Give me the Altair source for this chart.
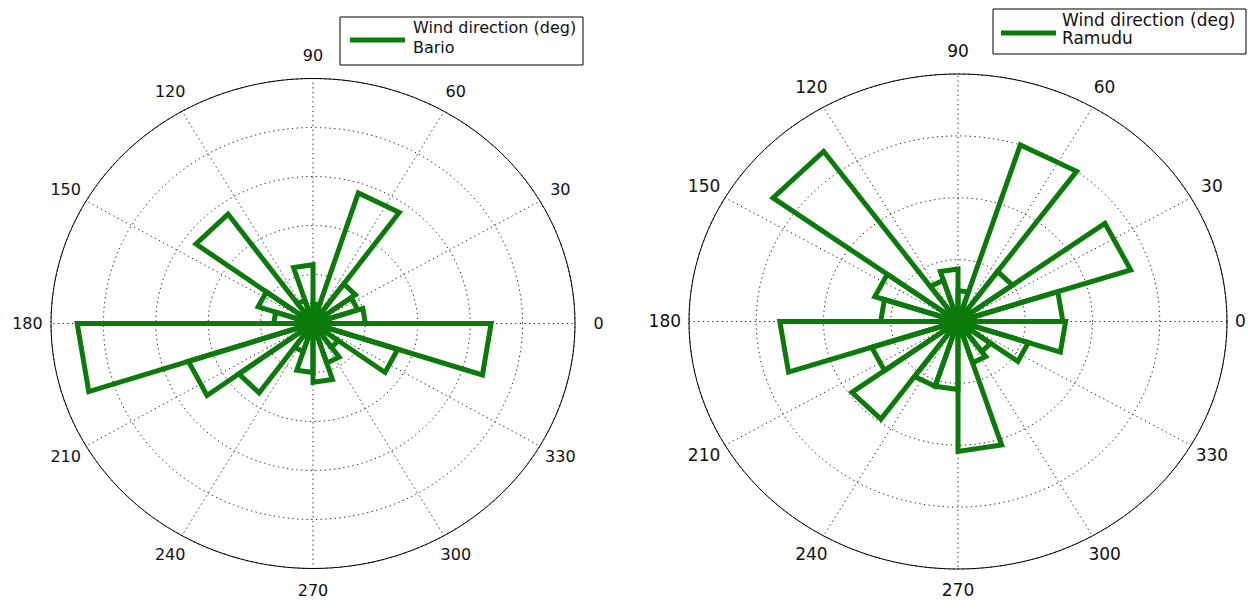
import altair as alt
import pandas as pd

# ---------------- data ----------------
bin_width = 18
bin_starts = list(range(0, 360, bin_width))          # 20 rose bins (deg)

# counts per bin
bario_counts = [10, 9, 10, 28, 4, 12, 5, 27.6, 11, 7.5,
                45, 25, 17.5, 6, 10, 12, 8.5, 6, 17, 34]
ramudu_counts = [15.6, 27, 10, 30, 5, 8.5, 7, 34, 13, 11.5,
                 26.5, 13.5, 19.5, 11, 11, 21, 7, 6, 11, 16]

bario_rmax, bario_step = 50, 10
ramudu_rmax, ramudu_step = 40, 10

angle_ticks = list(range(0, 360, 30))
legend_title = "Wind direction (deg)"
station_names = ["Bario", "Ramudu"]

GREEN = "#0b7a0b"
FONT = "DejaVu Sans"


def panel(counts, rmax, step, name, W, H, cx, cy, rx, ry, leg, fs, lab_fx, lab_fy):
    xs = alt.Scale(domain=[-cx / rx, (W - cx) / rx], nice=False, zero=False)
    ys = alt.Scale(domain=[-(H - cy) / ry, cy / ry], nice=False, zero=False)
    X = lambda f: alt.X(f, type="quantitative", scale=xs, axis=None)
    Y = lambda f: alt.Y(f, type="quantitative", scale=ys, axis=None)

    # rings (dotted) and outer circle
    ring_rows = []
    for r in range(step, rmax + 1, step):
        for a in range(0, 361, 2):
            ring_rows.append(dict(ring=r, a=a))
    rings_df = pd.DataFrame(ring_rows)
    rings = alt.Chart(rings_df).transform_calculate(
        x=f"datum.ring/{rmax}*cos(datum.a*PI/180)",
        y=f"datum.ring/{rmax}*sin(datum.a*PI/180)",
    ).mark_line(color="#222222", strokeWidth=1, strokeDash=[1.3, 3.4]).encode(
        x=X("x"), y=Y("y"), detail="ring:N", order="a:Q")

    outer = alt.Chart(rings_df[rings_df.ring == rmax]).transform_calculate(
        x="cos(datum.a*PI/180)", y="sin(datum.a*PI/180)",
    ).mark_line(color="black", strokeWidth=1).encode(
        x=X("x"), y=Y("y"), order="a:Q")

    spokes_df = pd.DataFrame({"a": angle_ticks})
    spokes = alt.Chart(spokes_df).transform_calculate(
        x0="0", y0="0",
        x1="cos(datum.a*PI/180)", y1="sin(datum.a*PI/180)",
    ).mark_rule(color="#222222", strokeWidth=1, strokeDash=[1.3, 3.4]).encode(
        x=X("x0"), y=Y("y0"), x2="x1:Q", y2="y1:Q")

    # angle labels; radius factor kept a touch smaller where the page edge is near
    labels = alt.Chart(spokes_df).transform_calculate(
        cs="cos(datum.a*PI/180)", sn="sin(datum.a*PI/180)",
    ).transform_calculate(
        x=f"datum.cs > 0.99 ? {lab_fx}*datum.cs : 1.09*datum.cs",
        y=f"datum.sn < -0.99 ? {lab_fy}*datum.sn : 1.09*datum.sn",
        lab="'' + datum.a",
    ).mark_text(font=FONT, fontSize=fs, color="#111111",
                align="center", baseline="middle").encode(
        x=X("x"), y=Y("y"), text="lab:N")

    # rose wedges (triangles, as MATLAB rose draws them)
    rows = []
    for k, (s, v) in enumerate(zip(bin_starts, counts)):
        for o, (r, a) in enumerate([(0, s), (v, s), (v, s + bin_width), (0, s + bin_width)]):
            rows.append(dict(bin=k, o=o, r=r, a=a))
    wedges = alt.Chart(pd.DataFrame(rows)).transform_calculate(
        x=f"datum.r/{rmax}*cos(datum.a*PI/180)",
        y=f"datum.r/{rmax}*sin(datum.a*PI/180)",
    ).mark_line(color=GREEN, strokeWidth=5, strokeJoin="miter").encode(
        x=X("x"), y=Y("y"), detail="bin:N", order="o:Q")

    # legend box
    one = pd.DataFrame({"k": [0]})
    bx0, bx1, by0, by1, lx0, lx1, ly, tx, t1, t2 = leg
    box = alt.Chart(one).mark_rect(fill="white", stroke="black", strokeWidth=1).encode(
        x=alt.value(bx0), x2=alt.value(bx1), y=alt.value(by0), y2=alt.value(by1))
    lline = alt.Chart(one).mark_rule(color=GREEN, strokeWidth=5).encode(
        x=alt.value(lx0), x2=alt.value(lx1), y=alt.value(ly))
    ltext1 = alt.Chart(one).mark_text(text=legend_title, font=FONT, fontSize=fs, color="#111111",
                                      align="left", baseline="middle").encode(
        x=alt.value(tx), y=alt.value(t1))
    ltext2 = alt.Chart(one).mark_text(text=name, font=FONT, fontSize=fs, color="#111111",
                                      align="left", baseline="middle").encode(
        x=alt.value(tx), y=alt.value(t2))

    return alt.layer(rings, spokes, outer, wedges, labels, box, lline, ltext1, ltext2).properties(
        width=W, height=H)


H = 592
left = panel(bario_counts, bario_rmax, bario_step, station_names[0],
             W=620, H=H, cx=305, cy=314.5, rx=262, ry=245,
             leg=(332, 575, 8, 56, 342, 397, 31, 405, 19, 39), fs=16,
             lab_fx=1.09, lab_fy=1.09)
right = panel(ramudu_counts, ramudu_rmax, ramudu_step, station_names[1],
              W=619, H=H, cx=330, cy=312.5, rx=269, ry=247.5,
              leg=(365, 618, 0, 45, 373, 428, 24, 434, 12, 30), fs=17,
              lab_fx=1.05, lab_fy=1.09)

chart = alt.hconcat(left, right, spacing=0, bounds="flush").properties(
    padding=0).configure_view(stroke=None)

chart.save("out.html", embed_options={"renderer": "svg", "actions": False})
